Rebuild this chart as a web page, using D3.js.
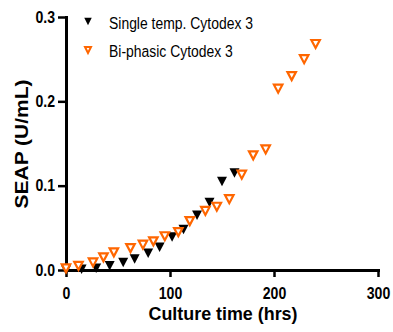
<!DOCTYPE html>
<html>
<head>
<meta charset="utf-8">
<script src="https://cdn.jsdelivr.net/npm/d3@7"></script>
<style>
  body { margin: 0; background: #fff; }
  svg { display: block; font-family: "Liberation Sans", Arial, sans-serif; }
</style>
</head>
<body>
<div id="chart"></div>
<script>
// culture time (hrs) and SEAP (U/mL)
const singleHours = [0, 15, 29, 42, 55, 66, 79, 90, 102, 113, 126, 138, 150, 162];
const singleSeap = [0.000, 0.001, 0.002, 0.005, 0.009, 0.013, 0.020, 0.027, 0.039, 0.048, 0.065, 0.080, 0.105, 0.115];

const biphasicHours = [0, 12, 26, 36, 46, 62, 74, 84, 95, 108, 119, 134, 145, 157, 169, 180, 192, 204, 217, 229, 240];
const biphasicSeap = [0.002, 0.005, 0.009, 0.015, 0.021, 0.026, 0.030, 0.034, 0.040, 0.045, 0.058, 0.070, 0.075, 0.084, 0.113, 0.136, 0.143, 0.215, 0.230, 0.250, 0.268];

const seriesNames = ["Single temp. Cytodex 3", "Bi-phasic Cytodex 3"];
const xTicks = [0, 100, 200, 300];
const yTicks = [0, 0.1, 0.2, 0.3];

const orange = "#ff6600";
const W = 393, H = 332;
const margin = { top: 17, right: 15, bottom: 62, left: 66 };

const svg = d3.select("#chart").append("svg")
    .attr("width", W)
    .attr("height", H);

const x = d3.scaleLinear().domain([0, 300]).range([margin.left, W - margin.right]);
const y = d3.scaleLinear().domain([0, 0.3]).range([H - margin.bottom, margin.top]);

// down-pointing triangle, centred on its bounding box
const downTriangle = (w, h) => ({
    draw(ctx) {
        ctx.moveTo(-w / 2, -h / 2);
        ctx.lineTo(w / 2, -h / 2);
        ctx.lineTo(0, h / 2);
        ctx.closePath();
    }
});

// axes
const xAxis = svg.append("g")
    .attr("transform", `translate(0,${y(0)})`)
    .call(d3.axisBottom(x).tickValues(xTicks).tickSize(7).tickSizeOuter(0).tickPadding(11));

const yAxis = svg.append("g")
    .attr("transform", `translate(${x(0)},0)`)
    .call(d3.axisLeft(y).tickValues(yTicks).tickFormat(d3.format(".1f")).tickSize(8).tickSizeOuter(0).tickPadding(3));

[xAxis, yAxis].forEach(g => {
    g.select(".domain").attr("stroke", "#000").attr("stroke-width", 3).attr("stroke-linecap", "square");
    g.selectAll(".tick line").attr("stroke", "#000").attr("stroke-width", 2.5);
    g.selectAll(".tick text")
        .attr("fill", "#000")
        .attr("font-size", 16)
        .attr("font-weight", "bold")
        .attr("font-family", "Liberation Sans, Arial, sans-serif")
        .each(function () {
            // labels in the original are a bit narrower than the font
            const len = this.getComputedTextLength();
            d3.select(this).attr("textLength", len * 0.88).attr("lengthAdjust", "spacingAndGlyphs");
        });
});

// axis titles
svg.append("text")
    .attr("x", 223)
    .attr("y", 320)
    .attr("text-anchor", "middle")
    .attr("font-size", 17.5)
    .attr("font-weight", "bold")
    .attr("textLength", 149)
    .attr("lengthAdjust", "spacingAndGlyphs")
    .text("Culture time (hrs)");

svg.append("text")
    .attr("transform", "translate(28,144) rotate(-90)")
    .attr("text-anchor", "middle")
    .attr("font-size", 18)
    .attr("font-weight", "bold")
    .attr("textLength", 129)
    .attr("lengthAdjust", "spacingAndGlyphs")
    .text("SEAP (U/mL)");

// data points
const single = singleHours.map((h, i) => ({ h, v: singleSeap[i] }));
const biphasic = biphasicHours.map((h, i) => ({ h, v: biphasicSeap[i] }));

svg.append("g")
    .selectAll("path")
    .data(single)
    .join("path")
    .attr("d", d3.symbol(downTriangle(10, 9.5))())
    .attr("transform", d => `translate(${x(d.h)},${y(d.v)})`)
    .attr("fill", "#000");

svg.append("g")
    .selectAll("path")
    .data(biphasic)
    .join("path")
    .attr("d", d3.symbol(downTriangle(8.5, 8))())
    .attr("transform", d => `translate(${x(d.h)},${y(d.v)})`)
    .attr("fill", "#fff")
    .attr("stroke", orange)
    .attr("stroke-width", 2.2);

// legend
const legend = svg.append("g");
const legendRows = [
    { name: seriesNames[0], fill: "#000", stroke: "none", shape: downTriangle(7.5, 7.5) },
    { name: seriesNames[1], fill: "#fff", stroke: orange, shape: downTriangle(6, 6) }
];

legendRows.forEach((r, i) => {
    const yy = 21.5 + i * 28.5;
    legend.append("path")
        .attr("d", d3.symbol(r.shape)())
        .attr("transform", `translate(88,${yy})`)
        .attr("fill", r.fill)
        .attr("stroke", r.stroke)
        .attr("stroke-width", 2);
    legend.append("text")
        .attr("transform", `translate(109,${yy + 7}) scale(0.82,1)`)
        .attr("font-size", 17)
        .attr("fill", "#000")
        .text(r.name);
});
</script>
</body>
</html>
